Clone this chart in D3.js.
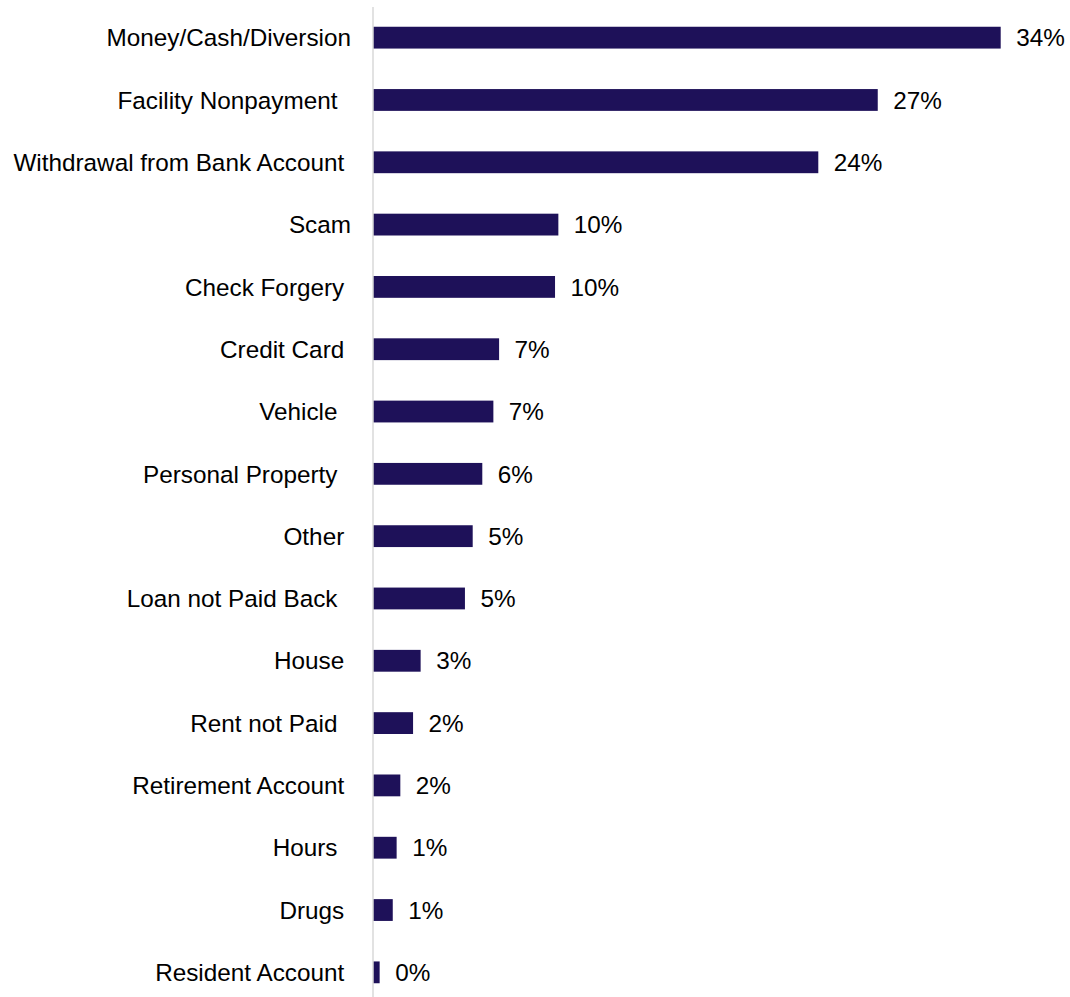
<!DOCTYPE html>
<html>
<head>
<meta charset="utf-8">
<script src="https://cdn.jsdelivr.net/npm/d3@7"></script>
<style>
  body { margin: 0; background: #fff; }
  svg text { font-family: "Liberation Sans", Arial, Helvetica, sans-serif; }
</style>
</head>
<body>
<svg id="chart"></svg>
<script>
// categories, top to bottom (trailing spaces are in the original labels)
const categories = [
  "Money/Cash/Diversion",
  "Facility Nonpayment  ",
  "Withdrawal from Bank Account ",
  "Scam",
  "Check Forgery ",
  "Credit Card ",
  "Vehicle  ",
  "Personal Property  ",
  "Other ",
  "Loan not Paid Back  ",
  "House ",
  "Rent not Paid  ",
  "Retirement Account ",
  "Hours  ",
  "Drugs ",
  "Resident Account "
];

// share of cases, percent
const values = [34.0, 27.34, 24.12, 10.04, 9.86, 6.83, 6.52, 5.92, 5.40, 4.98, 2.58, 2.17, 1.48, 1.28, 1.07, 0.36];

// value labels as printed on the chart
const valueLabels = ["34%", "27%", "24%", "10%", "10%", "7%", "7%", "6%", "5%", "5%", "3%", "2%", "2%", "1%", "1%", "0%"];

const width = 1070, height = 997;
const fontSize = 24.3;

const data = categories.map((c, i) => ({ name: c, value: values[i], label: valueLabels[i] }));

const svg = d3.select("#chart")
  .attr("width", width)
  .attr("height", height);

// x: value -> pixels, bars start right of the axis line
const x = d3.scaleLinear()
  .domain([0, 34])
  .range([373, 1000.7]);

const y = d3.scaleBand()
  .domain(categories)
  .range([6.5, 1003.5])
  .paddingInner(0.65)
  .paddingOuter(0.325);

// bars
svg.selectAll(".bar")
  .data(data)
  .enter().append("rect")
  .attr("class", "bar")
  .attr("x", x(0))
  .attr("y", d => y(d.name))
  .attr("width", d => x(d.value) - x(0))
  .attr("height", y.bandwidth())
  .attr("fill", "#1e1159");

// value labels
svg.selectAll(".val")
  .data(data)
  .enter().append("text")
  .attr("class", "val")
  .attr("x", d => x(d.value) + 15.5)
  .attr("y", d => y(d.name) + y.bandwidth() / 2 + fontSize * 0.358)
  .attr("font-size", fontSize)
  .attr("fill", "#000")
  .text(d => d.label);

// category axis
const axis = svg.append("g")
  .attr("transform", "translate(372.5,0)")
  .call(d3.axisLeft(y).tickSize(0).tickPadding(21.5).tickSizeOuter(0));

axis.select(".domain")
  .attr("stroke", "#d9d9d9")
  .attr("stroke-width", 1.5);

axis.selectAll(".tick text")
  .attr("font-size", fontSize)
  .attr("fill", "#000")
  .attr("dy", null)
  .attr("y", fontSize * 0.358)
  .attr("xml:space", "preserve")
  .style("white-space", "pre");
</script>
</body>
</html>
